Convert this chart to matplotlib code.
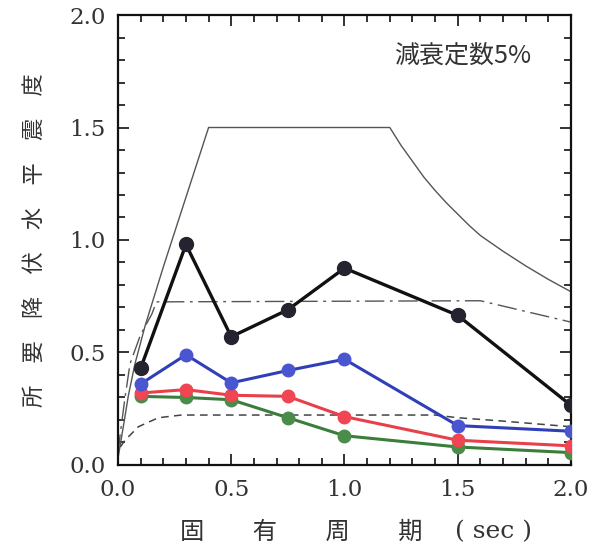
import matplotlib
matplotlib.use("Agg")
import matplotlib.pyplot as plt
from matplotlib.ticker import MultipleLocator

# natural period (sec) of the analysed cases
period = [0.1, 0.3, 0.5, 0.75, 1.0, 1.5, 2.0]
black_vals = [0.43, 0.98, 0.57, 0.69, 0.875, 0.665, 0.265]
blue_vals = [0.36, 0.49, 0.365, 0.42, 0.47, 0.175, 0.15]
red_vals = [0.32, 0.335, 0.31, 0.305, 0.215, 0.11, 0.085]
green_vals = [0.305, 0.30, 0.29, 0.21, 0.13, 0.08, 0.055]

# reference spectra
spec_T = [0.0, 0.01, 0.025, 0.046, 0.075, 0.12, 0.2, 0.4, 1.2, 1.25, 1.3, 1.35, 1.4,
          1.45, 1.5, 1.55, 1.6, 1.7, 1.8, 1.9, 2.0]
spec_v = [0.03, 0.09, 0.18, 0.31, 0.45, 0.62, 0.88, 1.5, 1.5, 1.42, 1.35, 1.28, 1.22,
          1.165, 1.115, 1.065, 1.02, 0.95, 0.885, 0.825, 0.77]
dd_T = [0.0, 0.01, 0.031, 0.053, 0.1, 0.149, 0.17, 1.6, 2.0]
dd_v = [0.05, 0.14, 0.30, 0.45, 0.58, 0.67, 0.725, 0.73, 0.635]
dash_T = [0.01, 0.031, 0.09, 0.178, 0.28, 1.4, 1.5, 1.7, 2.0]
dash_v = [0.08, 0.11, 0.17, 0.21, 0.222, 0.222, 0.21, 0.195, 0.17]

xticks = [0.0, 0.5, 1.0, 1.5, 2.0]
yticks = [0.0, 0.5, 1.0, 1.5, 2.0]

cjk = ["DejaVu Serif", "Noto Sans CJK JP"]
txt_color = "#333333"

fig = plt.figure(figsize=(6.03, 5.56), dpi=100)
ax = fig.add_axes([0.1957, 0.1637, 0.7512, 0.8093])

ax.plot(spec_T, spec_v, color="#555555", lw=1.0)
ax.plot(dd_T, dd_v, color="#555555", lw=1.0, linestyle=(0, (14, 4, 2, 4)))
ax.plot(dash_T, dash_v, color="#444444", lw=1.1, linestyle=(0, (5, 3.5)))

ax.plot(period, green_vals, color="#3b7d3b", lw=2.2, marker="o", ms=9,
        mfc="#4a8c4a", mec="#4a8c4a", zorder=3)
ax.plot(period, red_vals, color="#e8404a", lw=2.2, marker="o", ms=9,
        mfc="#f04552", mec="#f04552", zorder=3)
ax.plot(period, blue_vals, color="#2f3fb8", lw=2.2, marker="o", ms=9,
        mfc="#4a55d0", mec="#4a55d0", zorder=3)
ax.plot(period, black_vals, color="#111111", lw=2.4, marker="o", ms=10,
        mfc="#25232f", mec="#25232f", zorder=4)

ax.set_xlim(0, 2.0)
ax.set_ylim(0, 2.0)
ax.set_xticks(xticks)
ax.set_yticks(yticks)
ax.set_xticklabels([f"{v:.1f}" for v in xticks])
ax.set_yticklabels([f"{v:.1f}" for v in yticks])
ax.xaxis.set_minor_locator(MultipleLocator(0.1))
ax.yaxis.set_minor_locator(MultipleLocator(0.1))
ax.tick_params(which="both", direction="in", top=True, right=True, width=1.2,
               colors="#111111", labelcolor=txt_color)
ax.tick_params(which="major", length=8, labelsize=16.5)
ax.tick_params(which="minor", length=5)
ax.tick_params(axis="y", pad=9)
ax.tick_params(axis="x", pad=10)
for lab in ax.get_xticklabels() + ax.get_yticklabels():
    lab.set_family("DejaVu Serif")
for sp in ax.spines.values():
    sp.set_linewidth(1.6)
    sp.set_color("#111111")

ax.text(0.76, 0.91, "減衰定数5%", transform=ax.transAxes, ha="center", va="center",
        fontsize=18, family=["Noto Sans CJK JP", "DejaVu Sans"], color=txt_color)

# x axis title: spaced kanji plus the unit
fig.text(0.2985, 0.043, "固　　有　　周　　期", family=cjk, fontsize=17.5,
         color=txt_color, ha="left", va="center")
fig.text(0.8823, 0.043, "( sec )", family="DejaVu Serif", fontsize=18,
         color=txt_color, ha="right", va="center")
ax.set_ylabel("所　要　降　伏　水　平　震　度", family=cjk, fontsize=16,
              color=txt_color, labelpad=16)

fig.savefig("out.png", dpi=100)
